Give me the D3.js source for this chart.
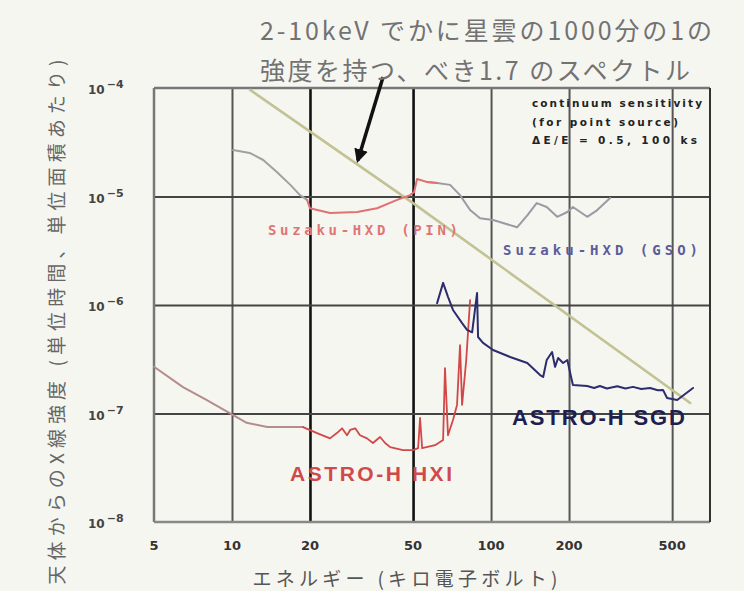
<!DOCTYPE html>
<html>
<head>
<meta charset="utf-8">
<script src="https://cdn.jsdelivr.net/npm/d3@7/dist/d3.min.js"></script>
<style>
  html, body { margin: 0; padding: 0; background: #f6f6f1; }
  svg { display: block; }
</style>
</head>
<body>
<svg id="chart" width="744" height="591"></svg>
<script>
// ---------- data ----------
const energyTicks = [5, 10, 20, 50, 100, 200, 500];
const energyGrid = [10, 20, 50, 100, 200, 500];
const energyGridDark = [20, 50];
const fluxTicks = [1e-4, 1e-5, 1e-6, 1e-7, 1e-8];
const fluxTickExp = ["\u22124", "\u22125", "\u22126", "\u22127", "\u22128"];
const fluxGrid = [1e-5, 1e-6, 1e-7];

// power law (index 1.7), 1/1000 Crab in 2-10 keV
const powerLaw17 = [[11.75, 9.6e-5], [50, 8.7e-6], [587, 1.25e-7]];

// Suzaku HXD
const suzakuSoft = [[10.1, 2.68e-5], [11.7, 2.52e-5], [13.2, 2.17e-5], [14.9, 1.68e-5],
  [16.8, 1.28e-5], [18.3, 1.03e-5], [19.5, 9.3e-6]];
const suzakuPIN = [[19.5, 9.3e-6], [20, 7.8e-6], [23.9, 7.05e-6], [30.4, 7.2e-6], [36.3, 7.8e-6],
  [43.4, 9.3e-6], [48.7, 1.03e-5], [50.5, 1.1e-5], [51.8, 1.45e-5], [56.6, 1.36e-5], [61.9, 1.33e-5]];
const suzakuGSO = [[56.6, 1.36e-5], [61.9, 1.33e-5], [69.5, 1.28e-5], [75.9, 1.03e-5], [83, 7.5e-6],
  [90.7, 6.3e-6], [101.8, 6.07e-6], [126, 5.2e-6], [138, 6.7e-6], [150, 8.7e-6], [164, 8.0e-6],
  [180, 6.5e-6], [197, 7.2e-6], [207, 8.0e-6], [235, 6.5e-6], [257, 7.5e-6], [288, 9.7e-6]];

// ASTRO-H HXI
const hxiSoft = [[5, 2.7e-7], [6.47, 1.75e-7], [8.0, 1.33e-7], [9.8, 1.01e-7], [11.4, 8.2e-8],
  [13.7, 7.5e-8], [18.8, 7.5e-8]];
const hxiHard = [[18.8, 7.5e-8], [21.3, 6.6e-8], [23.9, 5.9e-8], [25.4, 6.6e-8], [26.6, 7.3e-8],
  [27.8, 6.3e-8], [28.6, 7.05e-8], [29.9, 7.3e-8], [31.2, 6.3e-8], [33.2, 5.9e-8], [35.0, 5.35e-8],
  [37.3, 6.07e-8], [39.0, 5.35e-8], [40.8, 4.9e-8], [45.7, 4.6e-8], [50, 4.6e-8], [52.3, 4.8e-8],
  [53.2, 9.1e-8], [54.2, 4.8e-8], [60.8, 5.1e-8], [65.3, 5.7e-8], [66.4, 2.62e-7], [68.2, 6.3e-8],
  [71.3, 8.7e-8], [73.9, 1.2e-7], [75.9, 4.27e-7], [77.3, 1.2e-7], [80.2, 3.11e-7], [83, 1.11e-6]];

// ASTRO-H SGD
const sgd = [[61.9, 1.04e-6], [65.3, 1.6e-6], [68.2, 1.19e-6], [71.3, 9.0e-7], [77.3, 6.8e-7],
  [80.8, 5.9e-7], [84.5, 5.6e-7], [88.3, 1.29e-6], [89.1, 5.07e-7], [93.1, 4.47e-7], [101.8, 3.85e-7],
  [118.5, 3.32e-7], [138, 2.92e-7], [154.6, 2.26e-7], [158.9, 2.17e-7], [164, 3.11e-7], [172, 3.69e-7],
  [176.6, 2.69e-7], [181.5, 3.25e-7], [189.7, 2.92e-7], [197, 3.11e-7], [202, 2.36e-7], [207, 1.83e-7],
  [235, 1.79e-7], [250, 1.72e-7], [263, 1.79e-7], [280, 1.7e-7], [307, 1.78e-7], [330, 1.7e-7],
  [353, 1.76e-7], [380, 1.68e-7], [411, 1.72e-7], [440, 1.64e-7], [461, 1.65e-7], [478, 1.39e-7],
  [523, 1.33e-7], [602, 1.72e-7]];

// annotation arrow (start above plot, tip on power-law line)
const arrowPts = [[38.3, 1.26e-4], [30.6, 2.15e-5]];

const titleLines = ["2-10keV でかに星雲の1000分の1の", "強度を持つ、べき1.7 のスペクトル"];
const xTitle = "エネルギー (キロ電子ボルト)";
const yTitle = "天体からのX線強度 (単位時間、単位面積あたり)";
const noteLines = ["continuum sensitivity", "(for point source)", "\u0394E/E = 0.5, 100 ks"];

// ---------- drawing ----------
const svg = d3.select("#chart");
const L = 154, R = 710, T = 88, B = 522;
const x = d3.scaleLog().domain([5, 700]).range([L, R]);
const y = d3.scaleLog().domain([1e-8, 1e-4]).range([B, T]);
const jp = "'Noto Sans CJK JP', 'Noto Sans', sans-serif";

svg.append("rect").attr("width", 744).attr("height", 591).attr("fill", "#f6f6f1");

// vertical grid via axis
const gx = svg.append("g").attr("transform", `translate(0,${B})`)
  .call(d3.axisBottom(x).tickValues(energyGrid).tickSize(-(B - T)).tickFormat(""));
gx.select(".domain").remove();
gx.selectAll(".tick line")
  .attr("stroke", d => energyGridDark.includes(d) ? "#111" : "#555")
  .attr("stroke-width", d => energyGridDark.includes(d) ? 2.6 : 2);

// horizontal grid via axis
const gy = svg.append("g").attr("transform", `translate(${L},0)`)
  .call(d3.axisLeft(y).tickValues(fluxGrid).tickSize(-(R - L)).tickFormat(""));
gy.select(".domain").remove();
gy.selectAll(".tick line").attr("stroke", "#444").attr("stroke-width", 2);

// frame
svg.append("line").attr("x1", L).attr("x2", L).attr("y1", T).attr("y2", B).attr("stroke", "#777").attr("stroke-width", 2.5);
svg.append("line").attr("x1", L).attr("x2", R).attr("y1", T).attr("y2", T).attr("stroke", "#777").attr("stroke-width", 2.5);
svg.append("line").attr("x1", L).attr("x2", R).attr("y1", B).attr("y2", B).attr("stroke", "#888").attr("stroke-width", 2.5);
svg.append("line").attr("x1", R).attr("x2", R).attr("y1", T).attr("y2", B).attr("stroke", "#333").attr("stroke-width", 2);

// tick labels
svg.append("g").selectAll("text").data(energyTicks).join("text")
  .attr("x", d => x(d)).attr("y", 550)
  .attr("text-anchor", "middle")
  .attr("font-family", "'DejaVu Sans', sans-serif").attr("font-weight", "bold")
  .attr("font-size", 13).attr("fill", "#333")
  .text(d => d);

const yl = svg.append("g").selectAll("text").data(fluxTicks).join("text")
  .attr("x", 88).attr("y", d => y(d) + 6)
  .attr("font-family", "'DejaVu Sans', sans-serif").attr("font-weight", "bold")
  .attr("font-size", 12).attr("fill", "#444");
yl.append("tspan").text("10");
yl.append("tspan").attr("dx", 2).attr("dy", -6).attr("font-size", 11)
  .text((d, i) => fluxTickExp[i]);

// curves
const line = d3.line().x(d => x(d[0])).y(d => y(d[1]));
function curve(data, color, w) {
  svg.append("path").datum(data).attr("d", line)
    .attr("fill", "none").attr("stroke", color).attr("stroke-width", w)
    .attr("stroke-linejoin", "round").attr("stroke-linecap", "round");
}
curve(powerLaw17, "#c2c294", 2.6);
curve(suzakuSoft, "#a0a0a0", 2);
curve(suzakuGSO, "#9a9aa2", 2);
curve(suzakuPIN, "#e07272", 2);
curve(hxiSoft, "#b48c8c", 2);
curve(hxiHard, "#d24848", 1.8);
curve(sgd, "#2c2c6e", 2);

// arrow
svg.append("defs").append("marker").attr("id", "ah")
  .attr("viewBox", "0 0 10 10").attr("refX", 8).attr("refY", 5)
  .attr("markerWidth", 4).attr("markerHeight", 4).attr("orient", "auto")
  .append("path").attr("d", "M0,0 L10,5 L0,10 z").attr("fill", "#111");
svg.append("path").datum(arrowPts).attr("d", line)
  .attr("stroke", "#111").attr("stroke-width", 3.5).attr("fill", "none")
  .attr("marker-end", "url(#ah)");

// in-plot labels
function label(txt, x0, yc, len, size, color, family, weight) {
  svg.append("text").attr("x", x0).attr("y", yc)
    .attr("dominant-baseline", "central")
    .attr("font-family", family).attr("font-weight", weight || "normal")
    .attr("font-size", size).attr("fill", color)
    .attr("textLength", len).attr("lengthAdjust", "spacing")
    .text(txt);
}
label("Suzaku-HXD (PIN)", 268, 230, 190, 14, "#e07474", "'DejaVu Sans Mono', monospace", "bold");
label("Suzaku-HXD (GSO)", 503, 250, 195, 14, "#5c5c9a", "'DejaVu Sans Mono', monospace", "bold");
label("ASTRO-H HXI", 290, 473, 162, 21, "#d04a4a", "'Liberation Sans', sans-serif", "bold");
label("ASTRO-H SGD", 512, 417, 173, 22, "#1e1e50", "'Liberation Sans', sans-serif", "bold");
const noteLen = [170, 146, 165];
noteLines.forEach((t, i) => label(t, 532, 103 + i * 18.5, noteLen[i], 10.5, "#222", "'DejaVu Sans', sans-serif", "bold"));

// titles
const tLen = [452, 430];
titleLines.forEach((t, i) => {
  svg.append("text").attr("x", 260).attr("y", 29 + i * 40)
    .attr("dominant-baseline", "central")
    .attr("font-family", jp).attr("font-size", 25).attr("fill", "#727272")
    .attr("textLength", tLen[i]).attr("lengthAdjust", "spacing")
    .text(t);
});

svg.append("text").attr("x", 405).attr("y", 577)
  .attr("text-anchor", "middle").attr("dominant-baseline", "central")
  .attr("font-family", jp).attr("font-size", 19).attr("fill", "#555")
  .attr("textLength", 305).attr("lengthAdjust", "spacing")
  .text(xTitle);

svg.append("text")
  .attr("transform", "translate(55,322) rotate(-90)")
  .attr("text-anchor", "middle").attr("dominant-baseline", "central")
  .attr("font-family", jp).attr("font-size", 19).attr("fill", "#666")
  .attr("textLength", 525).attr("lengthAdjust", "spacing")
  .text(yTitle);
</script>
</body>
</html>
